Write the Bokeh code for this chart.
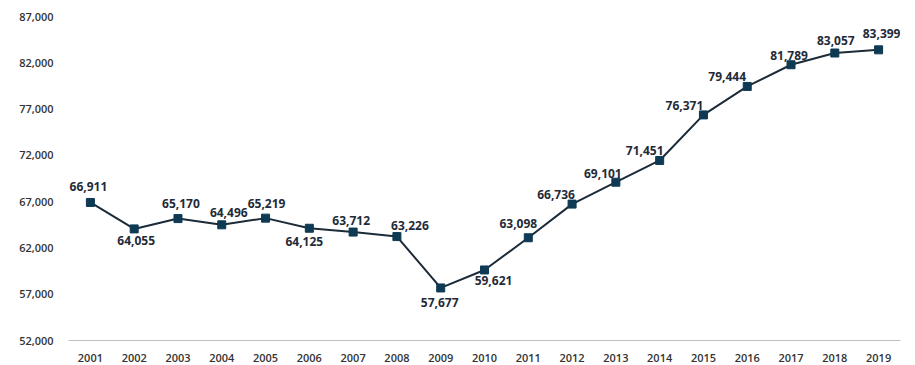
from bokeh.plotting import figure
from bokeh.models import ColumnDataSource, LabelSet, FactorRange, NumeralTickFormatter, FixedTicker, Range1d
from bokeh.core.properties import value
from bokeh.embed import file_html
from bokeh.resources import INLINE

years = [str(y) for y in range(2001, 2020)]
values = [66911, 64055, 65170, 64496, 65219, 64125, 63712, 63226, 57677, 59621,
          63098, 66736, 69101, 71451, 76371, 79444, 81789, 83057, 83399]
y_ticks = [52000, 57000, 62000, 67000, 72000, 77000, 82000, 87000]

# label placement (pixels; screen dx, dy with +dy downward)
label_dx = [-2, 2, 3, 7, 1, -5, -2, 13, -1, 9, -10, -16, -13, -15, -19, -20, -2, 1, 3]
label_dy = [-16, 12, -15, -12, -15, 13, -12, -11, 15, 11, -14, -10, -9, -10, -9, -10, -9, -13, -16]

src = ColumnDataSource(dict(
    x=years, y=values,
    txt=[f"{v:,}" for v in values],
    dx=label_dx, dy=[-d for d in label_dy],
))

p = figure(width=915, height=365, x_range=FactorRange(*years, range_padding=0),
           y_range=Range1d(52000, 87000), output_backend="svg", toolbar_location=None,
           min_border_left=68, min_border_right=15, min_border_top=16, min_border_bottom=25)
p.outline_line_color = None
p.background_fill_color = "white"
p.border_fill_color = "white"
p.xgrid.visible = False
p.ygrid.visible = False

p.line("x", "y", source=src, line_color="#1c2b37", line_width=2)
p.scatter("x", "y", source=src, marker="square", size=8, fill_color="#0e3a54", line_color="#0e3a54")

labels = LabelSet(x="x", y="y", text="txt", source=src, x_offset="dx", y_offset="dy",
                  text_align="center", text_baseline="middle", text_font=value("Open Sans"),
                  text_font_style="bold", text_font_size=value("12px"), text_color="#1f2b38")
p.add_layout(labels)

tick_font = "Open Sans SemiBold, Open Sans"
p.yaxis.ticker = FixedTicker(ticks=y_ticks)
p.yaxis.formatter = NumeralTickFormatter(format="0,0")
p.yaxis.axis_line_color = None
p.yaxis.major_tick_line_color = None
p.yaxis.minor_tick_line_color = None
p.yaxis.major_label_standoff = 9
p.yaxis.major_label_text_font = tick_font
p.yaxis.major_label_text_font_size = "11px"
p.yaxis.major_label_text_color = "#333333"

p.xaxis.axis_line_color = "#bfbfbf"
p.xaxis.axis_line_width = 1
p.xaxis.major_tick_line_color = None
p.xaxis.minor_tick_line_color = None
p.xaxis.major_label_standoff = 7
p.xaxis.major_label_text_font = tick_font
p.xaxis.major_label_text_font_size = "11px"
p.xaxis.major_label_text_color = "#333333"

open("out.html", "w").write(file_html(p, INLINE))
